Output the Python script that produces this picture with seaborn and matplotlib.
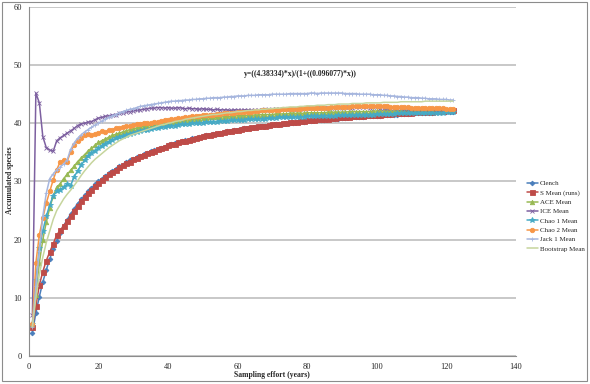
import pandas as pd
import numpy as np
import matplotlib
matplotlib.use('Agg')
import matplotlib.pyplot as plt
from matplotlib.patches import Rectangle
import seaborn as sns

# === data (x = 1..122 years) ===
years = list(range(1, 123))

clench = [4.0, 7.4, 10.2, 12.7, 14.8, 16.7, 18.4, 19.8, 21.2, 22.4,
          23.4, 24.4, 25.3, 26.2, 26.9, 27.6, 28.3, 28.9, 29.5, 30.0,
          30.5, 31.0, 31.4, 31.8, 32.2, 32.6, 32.9, 33.3, 33.6, 33.9,
          34.2, 34.4, 34.7, 34.9, 35.2, 35.4, 35.6, 35.8, 36.0, 36.2,
          36.4, 36.6, 36.7, 36.9, 37.1, 37.2, 37.4, 37.5, 37.6, 37.8,
          37.9, 38.0, 38.1, 38.2, 38.4, 38.5, 38.6, 38.7, 38.8, 38.9,
          39.0, 39.1, 39.1, 39.2, 39.3, 39.4, 39.5, 39.6, 39.6, 39.7,
          39.8, 39.9, 39.9, 40.0, 40.1, 40.1, 40.2, 40.2, 40.3, 40.4,
          40.4, 40.5, 40.5, 40.6, 40.6, 40.7, 40.7, 40.8, 40.8, 40.9,
          40.9, 41.0, 41.0, 41.1, 41.1, 41.1, 41.2, 41.2, 41.3, 41.3,
          41.3, 41.4, 41.4, 41.5, 41.5, 41.5, 41.6, 41.6, 41.6, 41.7,
          41.7, 41.7, 41.8, 41.8, 41.8, 41.8, 41.9, 41.9, 41.9, 42.0,
          42.0, 42.0]

s_mean = [5.0, 8.6, 12.2, 14.5, 16.4, 17.9, 19.3, 20.8, 21.6, 22.4,
          23.2, 24.1, 25.0, 25.8, 26.6, 27.3, 28.0, 28.6, 29.2, 29.7,
          30.2, 30.7, 31.2, 31.6, 32.0, 32.4, 32.8, 33.1, 33.4, 33.8,
          34.1, 34.3, 34.6, 34.9, 35.1, 35.3, 35.6, 35.8, 36.0, 36.2,
          36.4, 36.5, 36.7, 36.9, 37.0, 37.2, 37.3, 37.5, 37.6, 37.8,
          37.9, 38.0, 38.1, 38.3, 38.4, 38.5, 38.6, 38.7, 38.8, 38.9,
          39.0, 39.1, 39.2, 39.3, 39.4, 39.5, 39.5, 39.6, 39.7, 39.8,
          39.9, 39.9, 40.0, 40.1, 40.2, 40.2, 40.3, 40.4, 40.4, 40.5,
          40.6, 40.6, 40.7, 40.7, 40.8, 40.8, 40.9, 40.9, 41.0, 41.0,
          41.1, 41.1, 41.2, 41.2, 41.3, 41.3, 41.4, 41.4, 41.4, 41.5,
          41.5, 41.6, 41.6, 41.6, 41.7, 41.7, 41.7, 41.8, 41.8, 41.8,
          41.9, 41.9, 41.9, 42.0, 42.0, 42.0, 42.1, 42.1, 42.1, 42.2,
          42.2, 42.2]

ace = [5.5, 10.5, 16.0, 20.0, 23.0, 25.5, 27.5, 29.0, 29.6, 30.5,
       31.2, 31.9, 32.6, 33.4, 34.0, 34.6, 35.2, 35.7, 36.2, 36.7,
       37.0, 37.3, 37.6, 37.9, 38.1, 38.3, 38.5, 38.7, 38.9, 39.0,
       39.2, 39.3, 39.5, 39.6, 39.7, 39.8, 39.9, 40.0, 40.1, 40.2,
       40.3, 40.3, 40.4, 40.5, 40.5, 40.6, 40.7, 40.7, 40.8, 40.9,
       40.9, 41.0, 41.0, 41.0, 41.1, 41.1, 41.2, 41.2, 41.2, 41.3,
       41.3, 41.3, 41.4, 41.4, 41.4, 41.4, 41.5, 41.5, 41.5, 41.5,
       41.6, 41.6, 41.6, 41.6, 41.7, 41.7, 41.7, 41.7, 41.7, 41.8,
       41.8, 41.8, 41.8, 41.8, 41.8, 41.9, 41.9, 41.9, 41.9, 41.9,
       41.9, 42.0, 42.0, 42.0, 42.0, 42.0, 42.0, 42.0, 42.1, 42.1,
       42.1, 42.1, 42.1, 42.1, 42.1, 42.1, 42.2, 42.2, 42.2, 42.2,
       42.2, 42.2, 42.2, 42.2, 42.2, 42.2, 42.2, 42.3, 42.3, 42.3,
       42.3, 42.3]

ice = [7.0, 45.2, 43.5, 37.7, 35.8, 35.4, 35.2, 37.0, 37.5, 37.9,
       38.3, 38.7, 39.1, 39.6, 39.9, 40.0, 40.2, 40.3, 40.6, 40.9,
       41.0, 41.2, 41.3, 41.4, 41.5, 41.7, 41.8, 41.9, 42.0, 42.1,
       42.2, 42.3, 42.4, 42.5, 42.6, 42.6, 42.7, 42.7, 42.6, 42.7,
       42.6, 42.6, 42.7, 42.6, 42.5, 42.6, 42.5, 42.5, 42.4, 42.5,
       42.4, 42.4, 42.3, 42.4, 42.3, 42.3, 42.3, 42.2, 42.3, 42.3,
       42.2, 42.3, 42.3, 42.2, 42.3, 42.3, 42.3, 42.4, 42.3, 42.4,
       42.4, 42.4, 42.5, 42.4, 42.5, 42.5, 42.5, 42.6, 42.5, 42.6,
       42.6, 42.6, 42.7, 42.6, 42.7, 42.7, 42.7, 42.7, 42.8, 42.7,
       42.8, 42.8, 42.7, 42.8, 42.8, 42.8, 42.8, 42.7, 42.8, 42.8,
       42.7, 42.7, 42.7, 42.6, 42.6, 42.6, 42.6, 42.5, 42.5, 42.5,
       42.5, 42.4, 42.4, 42.4, 42.4, 42.4, 42.3, 42.3, 42.3, 42.3,
       42.3, 42.3]

chao1 = [5.5, 13.0, 18.5, 21.5, 24.0, 26.0, 27.5, 28.3, 28.6, 29.0,
         29.5, 29.3, 30.8, 31.8, 32.8, 33.6, 34.3, 34.9, 35.3, 35.7,
         36.1, 36.5, 36.8, 37.1, 37.4, 37.6, 37.8, 38.0, 38.2, 38.4,
         38.5, 38.7, 38.8, 38.9, 39.0, 39.1, 39.2, 39.3, 39.4, 39.5,
         39.6, 39.6, 39.7, 39.8, 39.8, 39.9, 40.0, 40.0, 40.1, 40.1,
         40.2, 40.2, 40.3, 40.3, 40.4, 40.4, 40.4, 40.5, 40.5, 40.6,
         40.6, 40.6, 40.7, 40.7, 40.7, 40.8, 40.8, 40.8, 40.9, 40.9,
         40.9, 41.0, 41.0, 41.0, 41.0, 41.1, 41.1, 41.1, 41.1, 41.2,
         41.2, 41.2, 41.2, 41.3, 41.3, 41.3, 41.3, 41.3, 41.4, 41.4,
         41.4, 41.4, 41.4, 41.5, 41.5, 41.5, 41.5, 41.5, 41.5, 41.6,
         41.6, 41.6, 41.6, 41.6, 41.6, 41.7, 41.7, 41.7, 41.7, 41.7,
         41.7, 41.7, 41.8, 41.8, 41.8, 41.8, 41.8, 41.8, 41.8, 41.9,
         41.9, 41.9]

chao2 = [5.5, 16.0, 20.8, 23.7, 26.3, 28.3, 30.3, 32.0, 33.4, 33.6,
         33.4, 35.1, 36.3, 37.0, 37.5, 38.0, 38.2, 38.0, 38.2, 38.4,
         38.6, 38.5, 38.8, 38.9, 39.1, 39.2, 39.4, 39.5, 39.6, 39.7,
         39.8, 39.9, 40.0, 40.0, 40.1, 40.2, 40.3, 40.4, 40.5, 40.6,
         40.7, 40.8, 40.9, 40.9, 41.0, 41.1, 41.2, 41.3, 41.3, 41.4,
         41.4, 41.5, 41.5, 41.6, 41.6, 41.7, 41.7, 41.8, 41.8, 41.9,
         41.9, 42.0, 42.0, 42.0, 42.1, 42.1, 42.2, 42.2, 42.2, 42.3,
         42.3, 42.3, 42.4, 42.4, 42.4, 42.5, 42.5, 42.5, 42.6, 42.6,
         42.6, 42.6, 42.7, 42.7, 42.7, 42.7, 42.8, 42.8, 42.8, 42.8,
         42.8, 42.8, 42.9, 42.9, 42.9, 42.9, 42.9, 42.9, 42.9, 42.9,
         42.9, 42.9, 42.9, 42.8, 42.8, 42.8, 42.8, 42.8, 42.8, 42.7,
         42.7, 42.7, 42.7, 42.7, 42.6, 42.6, 42.6, 42.6, 42.6, 42.5,
         42.5, 42.5]

jack1 = [5.0, 12.0, 18.0, 24.0, 28.0, 30.5, 31.3, 32.0, 32.5, 33.0,
         33.7, 35.5, 36.6, 37.4, 38.0, 38.5, 38.9, 39.3, 39.7, 40.0,
         40.4, 40.7, 41.0, 41.3, 41.5, 41.8, 42.0, 42.2, 42.4, 42.5,
         42.7, 42.9, 43.0, 43.1, 43.2, 43.3, 43.4, 43.5, 43.6, 43.7,
         43.8, 43.8, 43.9, 43.9, 44.0, 44.0, 44.1, 44.1, 44.2, 44.2,
         44.3, 44.3, 44.4, 44.4, 44.4, 44.5, 44.5, 44.6, 44.6, 44.7,
         44.7, 44.7, 44.8, 44.8, 44.8, 44.9, 44.9, 44.9, 44.9, 45.0,
         45.0, 45.0, 45.0, 45.0, 45.1, 45.1, 45.1, 45.1, 45.1, 45.1,
         45.2, 45.2, 45.1, 45.2, 45.2, 45.2, 45.2, 45.2, 45.2, 45.2,
         45.1, 45.1, 45.1, 45.1, 45.0, 45.0, 45.0, 45.0, 44.9, 44.9,
         44.9, 44.8, 44.8, 44.7, 44.7, 44.6, 44.6, 44.5, 44.5, 44.4,
         44.4, 44.4, 44.3, 44.3, 44.2, 44.2, 44.2, 44.1, 44.1, 44.1,
         44.0, 44.0]

bootstrap = [5.0, 10.0, 14.0, 17.0, 19.5, 21.5, 23.5, 25.0, 26.0, 27.0,
             27.8, 28.5, 29.3, 30.1, 31.0, 31.8, 32.5, 33.2, 33.8, 34.3,
             34.8, 35.3, 35.8, 36.2, 36.6, 37.0, 37.3, 37.6, 37.9, 38.1,
             38.3, 38.5, 38.7, 38.9, 39.1, 39.3, 39.5, 39.7, 39.8, 40.0,
             40.1, 40.3, 40.4, 40.5, 40.7, 40.8, 40.9, 41.0, 41.1, 41.2,
             41.3, 41.4, 41.5, 41.5, 41.6, 41.7, 41.8, 41.8, 41.9, 42.0,
             42.0, 42.1, 42.2, 42.2, 42.3, 42.3, 42.4, 42.4, 42.5, 42.5,
             42.6, 42.6, 42.7, 42.7, 42.8, 42.8, 42.8, 42.9, 42.9, 43.0,
             43.0, 43.0, 43.1, 43.1, 43.1, 43.2, 43.2, 43.2, 43.3, 43.3,
             43.3, 43.3, 43.4, 43.4, 43.4, 43.4, 43.5, 43.5, 43.5, 43.5,
             43.5, 43.6, 43.6, 43.6, 43.6, 43.6, 43.7, 43.7, 43.7, 43.7,
             43.7, 43.7, 43.7, 43.8, 43.8, 43.8, 43.8, 43.8, 43.8, 43.8,
             43.8, 43.8]

series_names = ['Clench', 'S Mean (runs)', 'ACE Mean', 'ICE Mean',
                'Chao 1 Mean', 'Chao 2 Mean', 'Jack 1 Mean', 'Bootstrap Mean']
series_values = [clench, s_mean, ace, ice, chao1, chao2, jack1, bootstrap]

fit_label = 'y=((4.38334)*x)/(1+((0.096077)*x))'

# === long format for seaborn ===
frames = []
for name, vals in zip(series_names, series_values):
    frames.append(pd.DataFrame({'years': years, 'species': vals, 'series': name}))
df = pd.concat(frames, ignore_index=True)

colors = {'Clench': '#4A7EBB', 'S Mean (runs)': '#BE4B48', 'ACE Mean': '#98B954',
          'ICE Mean': '#7D60A0', 'Chao 1 Mean': '#46AAC5', 'Chao 2 Mean': '#F79646',
          'Jack 1 Mean': '#A6B6DE', 'Bootstrap Mean': '#C6D59D'}
markers = {'Clench': 'D', 'S Mean (runs)': 's', 'ACE Mean': '^', 'ICE Mean': 'x',
           'Chao 1 Mean': '*', 'Chao 2 Mean': 'o', 'Jack 1 Mean': '+',
           'Bootstrap Mean': None}
msizes = {'Clench': 2.4, 'S Mean (runs)': 3.6, 'ACE Mean': 3.2, 'ICE Mean': 3.2,
          'Chao 1 Mean': 3.8, 'Chao 2 Mean': 3.2, 'Jack 1 Mean': 3.4,
          'Bootstrap Mean': 0}

sns.set_style('white')
plt.rcParams['font.family'] = ['Liberation Serif', 'DejaVu Serif']

fig = plt.figure(figsize=(5.9, 3.84), dpi=100)
ax = fig.add_axes([0.049, 0.073, 0.825, 0.909])

# one call per series so filled and line markers can mix
for name in series_names:
    sub = df[df['series'] == name]
    sns.lineplot(data=sub, x='years', y='species', color=colors[name],
                 marker=markers[name], markersize=msizes[name],
                 markeredgewidth=0.6, markeredgecolor=colors[name],
                 linewidth=1.1, label=name, ax=ax)

ax.set_xlim(0, 140)
ax.set_ylim(0, 60)
ax.set_xticks(range(0, 141, 20))
ax.set_yticks(range(0, 61, 10))
ax.yaxis.grid(True, color='#BFBFBF', linewidth=1.2)
ax.set_axisbelow(True)
for side in ['top', 'right']:
    ax.spines[side].set_visible(False)
for side in ['left', 'bottom']:
    ax.spines[side].set_color('#8C8C8C')
    ax.spines[side].set_linewidth(0.8)
ax.tick_params(axis='both', labelsize=6, length=3, width=0.6, color='#8C8C8C',
               direction='out', pad=2)

ax.set_xlabel('Sampling effort (years)', fontsize=5.5, fontweight='bold')
ax.set_ylabel('Accumulated species', fontsize=5.5, fontweight='bold')
ax.xaxis.set_label_coords(0.499, -0.043)
ax.yaxis.set_label_coords(-0.031, 0.504)

ax.text(78, 48.4, fit_label, fontsize=5.5, fontweight='bold', ha='center', va='center')

ax.legend(loc='upper left', bbox_to_anchor=(0.888, 0.538), bbox_transform=fig.transFigure,
          frameon=False, fontsize=5.0, handlelength=1.6, handletextpad=0.3,
          labelspacing=0.5, borderaxespad=0)

fig.add_artist(Rectangle((0.003, 0.008), 0.992, 0.987, transform=fig.transFigure,
                         fill=False, edgecolor='#8C8C8C', linewidth=0.8))

plt.savefig('out.png', dpi=100)
